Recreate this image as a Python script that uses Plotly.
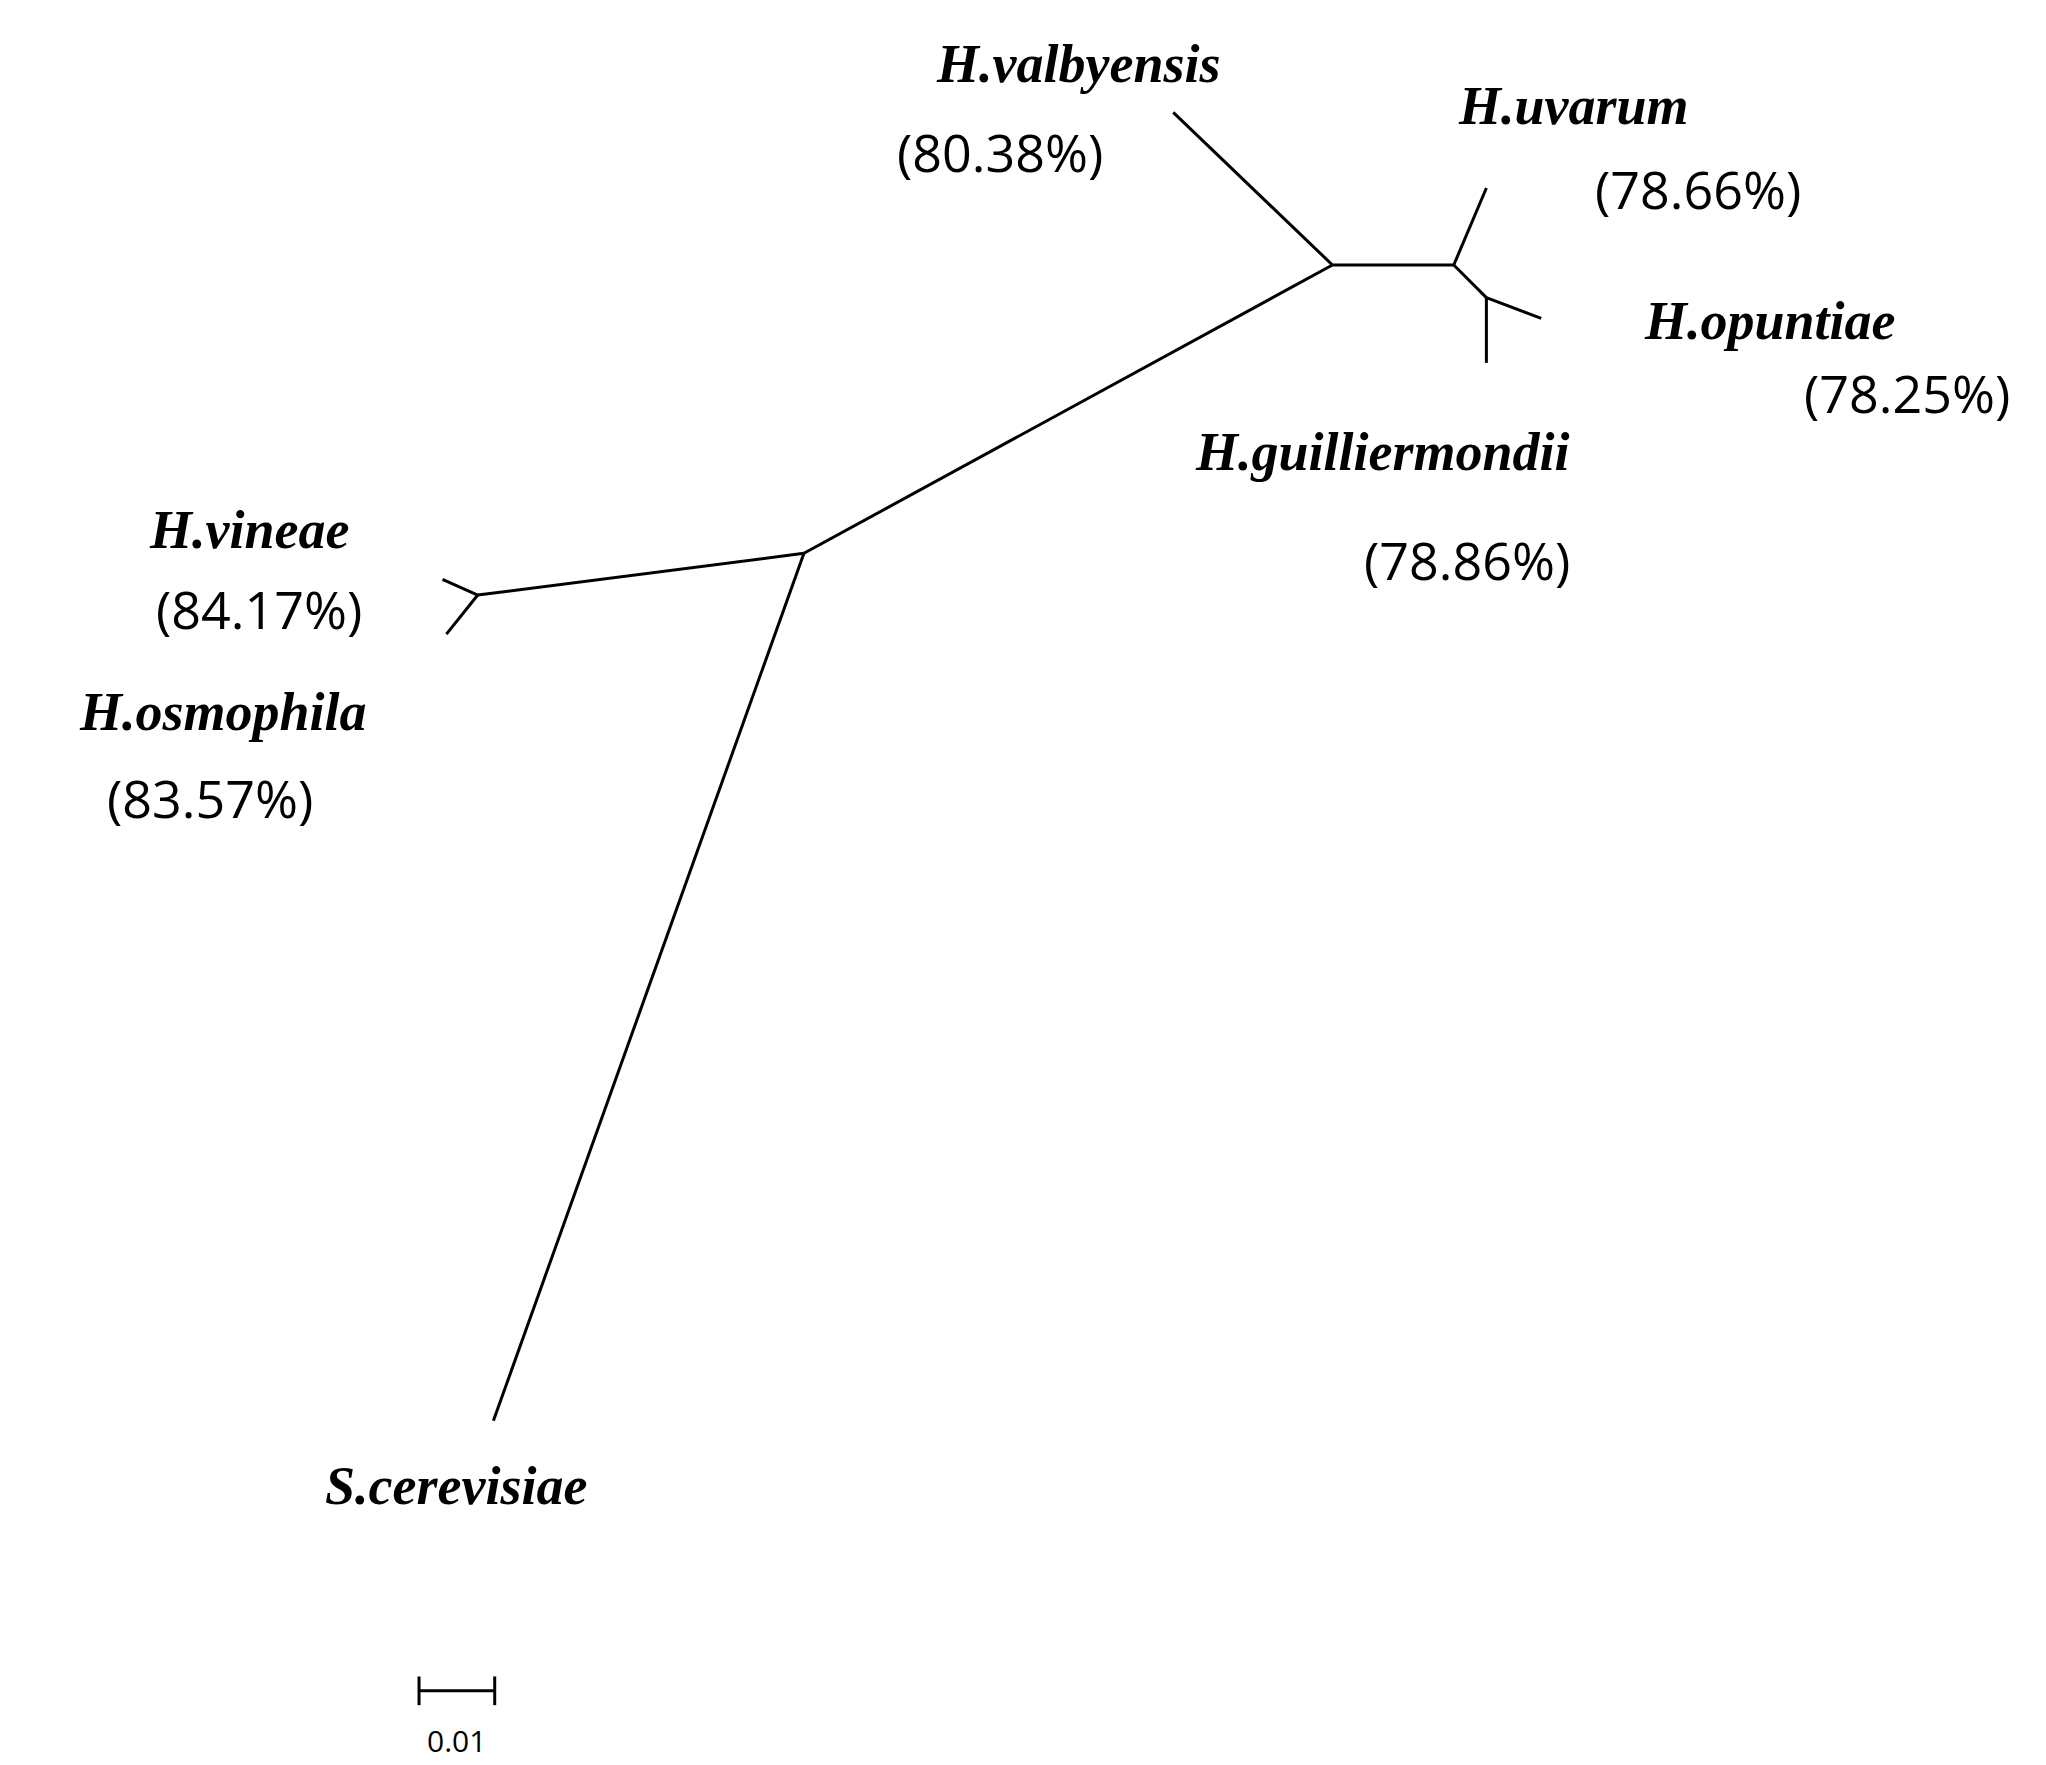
import plotly.graph_objects as go

S = 2046 / 1568  # reference drawn in 1568x1353 units, scaled to figure
# node positions (tree layout units)
node_names = ["A", "Scer", "B", "Hvin", "Hosm", "C", "Hval", "D", "Huva", "E", "Hopu", "Hgui"]
node_x = [610, 372, 360, 333, 336, 1015, 893, 1108, 1133, 1133, 1175, 1133]
node_y = [418, 1083, 450, 438, 480, 197, 80, 197, 138, 222, 238, 272]
edges = [("A", "Scer"), ("A", "B"), ("B", "Hvin"), ("B", "Hosm"), ("A", "C"),
         ("C", "Hval"), ("C", "D"), ("D", "Huva"), ("D", "E"), ("E", "Hopu"), ("E", "Hgui")]

species = ["H.valbyensis", "H.uvarum", "H.opuntiae", "H.guilliermondii", "H.vineae", "H.osmophila", "S.cerevisiae"]
species_pos = [(820, 43), (1200, 75), (1350, 240), (1053, 340), (185, 400), (165, 540), (343, 1133)]
percents = ["(80.38%)", "(78.66%)", "(78.25%)", "(78.86%)", "(84.17%)", "(83.57%)", None]
percent_pos = [(760, 110), (1295, 138), (1455, 295), (1118, 423), (192, 460), (155, 605), None]

scale_label = "0.01"
scale_x0, scale_x1, scale_y = 315, 373, 1290

idx = {n: i for i, n in enumerate(node_names)}
xs, ys = [], []
for a, b in edges:
    xs += [node_x[idx[a]], node_x[idx[b]], None]
    ys += [node_y[idx[a]], node_y[idx[b]], None]

fig = go.Figure()
fig.add_trace(go.Scatter(x=xs, y=ys, mode="lines", line=dict(color="black", width=3), hoverinfo="skip"))
# scale bar
fig.add_trace(go.Scatter(
    x=[scale_x0, scale_x1, None, scale_x0, scale_x0, None, scale_x1, scale_x1],
    y=[scale_y, scale_y, None, scale_y - 11, scale_y + 11, None, scale_y - 11, scale_y + 11],
    mode="lines", line=dict(color="black", width=3), hoverinfo="skip"))

ann = []
for t, (x, y) in zip(species, species_pos):
    ann.append(dict(x=x, y=y, text=f"<b><i>{t}</i></b>", showarrow=False,
                    font=dict(family="Liberation Serif", size=54, color="black")))
for t, p in zip(percents, percent_pos):
    if t:
        ann.append(dict(x=p[0], y=p[1], text=t, showarrow=False,
                        font=dict(family="Open Sans", size=52, color="black")))
ann.append(dict(x=(scale_x0 + scale_x1) / 2, y=1328, text=scale_label, showarrow=False,
                font=dict(family="Open Sans", size=30, color="black")))

fig.update_layout(
    width=2046, height=1765, margin=dict(l=0, r=0, t=0, b=0),
    paper_bgcolor="white", plot_bgcolor="white", showlegend=False,
    xaxis=dict(range=[0, 1568], visible=False, fixedrange=True),
    yaxis=dict(range=[1353, 0], visible=False, fixedrange=True),
    annotations=ann)
fig.write_html("out.html")
